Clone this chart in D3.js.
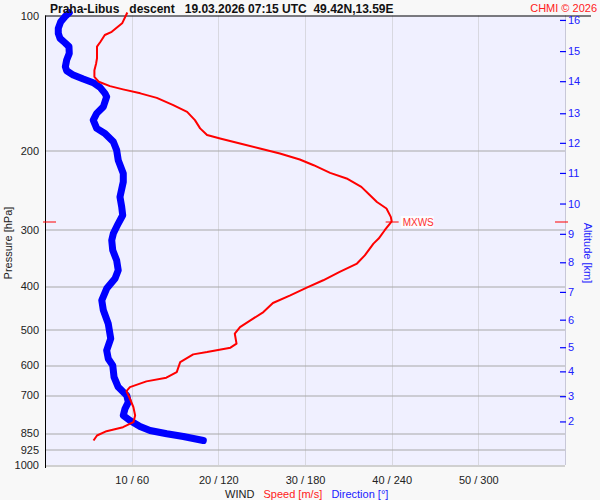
<!DOCTYPE html>
<html>
<head>
<meta charset="utf-8">
<script src="https://cdn.jsdelivr.net/npm/d3@7/dist/d3.min.js"></script>
<style>
	body { margin: 0; background: #f8f8f8; font-family: "Liberation Sans", Arial, sans-serif; }
	svg text { font-family: "Liberation Sans", Arial, sans-serif; }
</style>
</head>
<body>
<div id="container"></div>
<script>
// wind speed profile [hPa] / [m/s]
var speedLevels = [98.5, 104.1, 108.7, 110.5, 114.4, 117.3, 124.5, 127.8, 132.3, 136.9, 140.4, 143.6, 146.0, 149.0, 152.5,
	158.2, 163.8, 170.9, 178.3, 184.5, 187.7, 192.6, 197.6, 202.7, 209.1, 215.3, 223.9, 230.4, 240.6, 251.1,
	259.9, 268.8, 280.6, 287.0, 290.3, 300.4, 313.5, 321.7, 341.6, 356.3, 372.0, 388.2, 403.0, 419.3, 436.1,
	456.8, 476.7, 493.3, 510.4, 537.2, 548.3, 560.8, 567.4, 590.2, 621.3, 639.4, 651.6, 670.9, 684.8, 712.2,
	743.6, 775.8, 803.0, 823.8, 841.0, 859.7, 882.0];
var speedValues = [9.5, 8.9, 7.7, 6.9, 6.4, 6.0, 6.0, 5.9, 5.7, 5.7, 6.2, 7.5, 9.0, 11.0, 12.9,
	14.8, 16.4, 17.3, 17.9, 18.7, 20.2, 22.5, 24.8, 27.1, 29.4, 31.0, 32.9, 34.8, 36.5, 37.5,
	38.3, 39.4, 39.9, 40.0, 39.8, 39.2, 38.5, 37.9, 36.9, 36.0, 34.0, 32.1, 30.2, 28.3, 26.3,
	25.2, 23.7, 22.5, 21.9, 22.1, 21.4, 18.7, 17.1, 15.6, 15.2, 14.0, 11.7, 9.8, 9.4, 9.8,
	10.2, 10.4, 10.2, 9.0, 7.1, 6.0, 5.6];

// wind direction profile [hPa] / [deg]
var dirLevels = [98.6, 100.6, 103.2, 106.8, 109.6, 112.4, 115.0, 117.3, 121.4, 125.6, 130.0, 132.7, 135.7, 138.5, 141.1,
	144.5, 149.0, 151.6, 159.6, 165.1, 170.9, 178.3, 183.0, 191.0, 199.3, 209.8, 224.6, 234.5, 253.3, 266.6,
	278.2, 290.3, 305.6, 316.2, 333.0, 350.4, 368.7, 384.8, 405.1, 430.1, 452.8, 484.9, 523.6, 555.9, 580.1,
	600.3, 637.5, 670.9, 700.1, 724.6, 749.6, 775.8, 796.0, 821.0, 838.0, 852.2, 864.1, 882.0];
var dirValues = [16.8, 13.8, 10.9, 9.2, 9.2, 10.4, 13.8, 16.6, 16.8, 15.0, 14.1, 15.0, 19.6, 26.5, 33.4,
	38.1, 41.5, 42.7, 40.4, 35.8, 33.4, 35.8, 41.5, 47.3, 49.6, 50.7, 54.2, 54.2, 51.9, 53.1,
	53.8, 50.7, 47.3, 46.2, 46.9, 49.6, 50.7, 48.5, 42.7, 39.3, 40.4, 43.8, 45.5, 42.7, 43.8,
	46.9, 47.8, 50.7, 56.6, 57.7, 55.4, 54.2, 58.8, 65.8, 72.7, 84.3, 95.8, 109.6];

// axes
var pressureTicks = [200, 300, 400, 500, 600, 700, 850, 925, 1000];
var pressureLabels = [100, 200, 300, 400, 500, 600, 700, 850, 925, 1000];
var altitudeTicks = [2, 3, 4, 5, 6, 7, 8, 9, 10, 11, 12, 13, 14, 15, 16];
var altitudePressures = [800, 703, 619, 547, 475, 412, 354, 306, 262, 224, 192, 165, 140, 120, 102.3];
var windTicks = [10, 20, 30, 40, 50, 60];
var windTickLabels = ["10 / 60", "20 / 120", "30 / 180", "40 / 240", "50 / 300", ""];

// max wind
var mxwsPressure = 287;
var mxwsSpeed = 40.0;

function sounding(){

	var margin = {top: 15.5, right: 35, bottom: 35, left: 45},
		width = 520,
		height = 449.5;

	var svg = d3.select("#container")
		.append("svg")
		.attr("width", 600)
		.attr("height", 500);

	var x = d3.scaleLinear().domain([0, 60]).range([0, width]);
	var xDir = d3.scaleLinear().domain([0, 360]).range([0, width]);
	var y = d3.scaleLog().domain([100, 1000]).range([0, height]);

	var plot = svg.append("g")
		.attr("transform", "translate(" + margin.left + "," + margin.top + ")");

	plot.append("rect")
		.attr("x", 0).attr("y", 0)
		.attr("width", width).attr("height", height)
		.attr("fill", "#f0f0ff");

	// vertical grid
	plot.selectAll(".vgrid")
		.data(windTicks)
		.enter().append("line")
		.attr("class", "vgrid")
		.attr("x1", function(d) { return Math.round(x(d)) + 0.5; })
		.attr("x2", function(d) { return Math.round(x(d)) + 0.5; })
		.attr("y1", 0)
		.attr("y2", height)
		.attr("stroke", "#d8d8e0")
		.attr("stroke-width", 1);

	// horizontal grid
	plot.selectAll(".hgrid")
		.data(pressureTicks)
		.enter().append("line")
		.attr("class", "hgrid")
		.attr("x1", 0)
		.attr("x2", width)
		.attr("y1", function(d) { return Math.round(y(d)) + 0.5; })
		.attr("y2", function(d) { return Math.round(y(d)) + 0.5; })
		.attr("stroke", "#a8a8a8")
		.attr("stroke-width", 1);

	// right axis line
	plot.append("line")
		.attr("x1", width + 0.5).attr("x2", width + 0.5)
		.attr("y1", 0).attr("y2", height)
		.attr("stroke", "#c8c8d8");

	// left axis line + top border
	plot.append("line")
		.attr("x1", 0.5).attr("x2", 0.5)
		.attr("y1", 0).attr("y2", height + 3)
		.attr("stroke", "#000");
	plot.append("line")
		.attr("x1", 0).attr("x2", width + 26)
		.attr("y1", 0.5).attr("y2", 0.5)
		.attr("stroke", "#000");

	// left axis labels
	var yAxis = plot.append("g")
		.call(d3.axisLeft(y)
			.tickValues(pressureLabels)
			.tickFormat(d3.format("d"))
			.tickSize(0)
			.tickPadding(6));
	yAxis.select(".domain").remove();
	yAxis.selectAll("text").attr("font-size", 11).attr("fill", "#222");

	// right axis (altitude)
	var rAxis = plot.append("g")
		.attr("transform", "translate(" + (width - 5) + ",0)")
		.call(d3.axisRight(y)
			.tickValues(altitudePressures)
			.tickFormat(function(d, i) { return altitudeTicks[i]; })
			.tickSize(6)
			.tickPadding(2));
	rAxis.select(".domain").remove();
	rAxis.selectAll("line").attr("stroke", "#0000ff").attr("stroke-width", 1.2);
	rAxis.selectAll("text").attr("font-size", 11).attr("fill", "#2020ff");

	// bottom axis
	var xAxis = plot.append("g")
		.attr("transform", "translate(0," + height + ")")
		.call(d3.axisBottom(x)
			.tickValues(windTicks)
			.tickFormat(function(d, i) { return windTickLabels[i]; })
			.tickSize(0)
			.tickPadding(11));
	xAxis.select(".domain").remove();
	xAxis.selectAll("text").attr("font-size", 11).attr("fill", "#222");

	// profiles
	var speedData = speedLevels.map(function(p, i) { return {p: p, v: speedValues[i]}; });
	var dirData = dirLevels.map(function(p, i) { return {p: p, v: dirValues[i]}; });

	var dirLine = d3.line()
		.x(function(d) { return xDir(d.v); })
		.y(function(d) { return y(d.p); });

	var speedLine = d3.line()
		.x(function(d) { return x(d.v); })
		.y(function(d) { return y(d.p); });

	plot.append("path")
		.datum(dirData)
		.attr("d", dirLine)
		.attr("fill", "none")
		.attr("stroke", "#0000ff")
		.attr("stroke-width", 7)
		.attr("stroke-linejoin", "round")
		.attr("stroke-linecap", "round");

	plot.append("path")
		.datum(speedData)
		.attr("d", speedLine)
		.attr("fill", "none")
		.attr("stroke", "#ff0000")
		.attr("stroke-width", 2)
		.attr("stroke-linejoin", "round");

	// MXWS marks
	var my = Math.round(y(mxwsPressure)) + 0.5;
	[[-2, 11], [width - 10, width + 3], [x(mxwsSpeed) - 6, x(mxwsSpeed) + 7]].forEach(function(s) {
		plot.append("line")
			.attr("x1", s[0]).attr("x2", s[1])
			.attr("y1", my).attr("y2", my)
			.attr("stroke", "#ff0000")
			.attr("stroke-width", 1);
	});
	plot.append("rect")
		.attr("x", x(mxwsSpeed) + 9).attr("y", my - 6)
		.attr("width", 33).attr("height", 12)
		.attr("fill", "#ffffff").attr("opacity", 0.8);
	plot.append("text")
		.attr("x", x(mxwsSpeed) + 11).attr("y", my + 4)
		.attr("font-size", 10)
		.attr("fill", "#ff3030")
		.text("MXWS");

	// axis titles
	svg.append("text")
		.attr("transform", "translate(12," + 243 + ") rotate(-90)")
		.attr("text-anchor", "middle")
		.attr("font-size", 11)
		.attr("fill", "#222")
		.text("Pressure [hPa]");

	svg.append("text")
		.attr("transform", "translate(584," + 253 + ") rotate(90)")
		.attr("text-anchor", "middle")
		.attr("font-size", 11)
		.attr("fill", "#2020ff")
		.text("Altitude [km]");

	var wl = svg.append("text")
		.attr("x", 225)
		.attr("y", 498)
		.attr("font-size", 11)
		.style("white-space", "pre");
	wl.append("tspan").attr("fill", "#222").text("WIND   ");
	wl.append("tspan").attr("fill", "#ff2020").text("Speed [m/s]   ");
	wl.append("tspan").attr("fill", "#2020ff").text("Direction [°]");

	// title
	svg.append("text")
		.attr("x", 50)
		.attr("y", 13)
		.attr("font-size", 12)
		.attr("font-weight", "bold")
		.attr("fill", "#111")
		.style("white-space", "pre")
		.text("Praha-Libus   descent   19.03.2026 07:15 UTC  49.42N,13.59E");

	svg.append("text")
		.attr("x", 597)
		.attr("y", 12)
		.attr("text-anchor", "end")
		.attr("font-size", 11)
		.attr("fill", "#ff2020")
		.text("CHMI © 2026");
}

sounding();
</script>
</body>
</html>
